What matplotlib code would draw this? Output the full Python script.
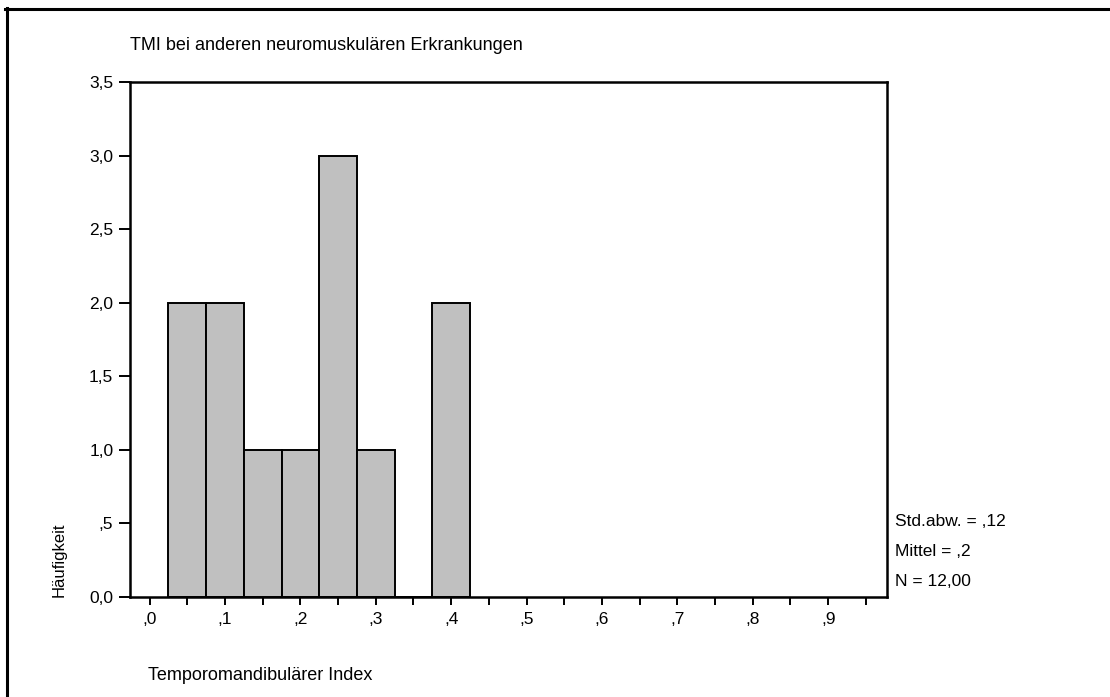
import matplotlib
matplotlib.use("Agg")
import matplotlib.pyplot as plt
from matplotlib.lines import Line2D
import numpy as np

# histogram data (bin edges every 0.05, counts per bin)
bin_edges = [0.025, 0.075, 0.125, 0.175, 0.225, 0.275, 0.325, 0.375, 0.425]
counts = [2, 2, 1, 1, 3, 1, 0, 2]

y_ticks = [0.0, 0.5, 1.0, 1.5, 2.0, 2.5, 3.0, 3.5]
y_labels = ["0,0", ",5", "1,0", "1,5", "2,0", "2,5", "3,0", "3,5"]
x_ticks = [0.0, 0.1, 0.2, 0.3, 0.4, 0.5, 0.6, 0.7, 0.8, 0.9]
x_labels = [",0", ",1", ",2", ",3", ",4", ",5", ",6", ",7", ",8", ",9"]
x_minor = [0.05, 0.15, 0.25, 0.35, 0.45, 0.55, 0.65, 0.75, 0.85, 0.95]

stats_lines = ["Std.abw. = ,12", "Mittel = ,2", "N = 12,00"]

title = "TMI bei anderen neuromuskulären Erkrankungen"
xlabel = "Temporomandibulärer Index"
ylabel = "Häufigkeit"

plt.rcParams["font.family"] = ["Liberation Sans", "DejaVu Sans"]

W, H = 1110, 697
fig = plt.figure(figsize=(W / 100, H / 100), dpi=100)


def fx(px):
    return px / W


def fy(py):
    return 1 - py / H


# axes box in pixel coords
left, right, top, bottom = 130, 887, 82, 597
ax = fig.add_axes([fx(left), fy(bottom), fx(right - left), (bottom - top) / H])

widths = np.diff(bin_edges)
ax.bar(bin_edges[:-1], counts, width=widths, align="edge",
       color="#c0c0c0", edgecolor="black", linewidth=1.4)

ax.set_xlim(-0.026, 0.978)
ax.set_ylim(0, 3.5)

ax.set_yticks(y_ticks)
ax.set_yticklabels(y_labels, fontsize=12.5)
ax.set_xticks(x_ticks)
ax.set_xticklabels(x_labels, fontsize=12.5)
ax.set_xticks(x_minor, minor=True)
ax.tick_params(axis="y", direction="out", length=8, width=1.4, pad=4)
ax.tick_params(axis="x", which="both", direction="out", length=6, width=1.4, pad=5)
for s in ax.spines.values():
    s.set_linewidth(1.8)

fig.text(fx(130), fy(45), title, fontsize=13, ha="left", va="center")
fig.text(fx(148), fy(675), xlabel, fontsize=13, ha="left", va="center")
fig.text(fx(59), fy(597), ylabel, fontsize=12, rotation=90,
         ha="center", va="bottom")

for i, line in enumerate(stats_lines):
    fig.text(fx(895), fy(521 + 30.5 * i), line, fontsize=12.5,
             ha="left", va="center")

# outer frame (top and left only)
fig.add_artist(Line2D([fx(5), 1], [fy(9), fy(9)], color="black", linewidth=2.2))
fig.add_artist(Line2D([fx(6.5), fx(6.5)], [fy(8), 0], color="black", linewidth=2.2))

fig.savefig("out.png", dpi=100)
